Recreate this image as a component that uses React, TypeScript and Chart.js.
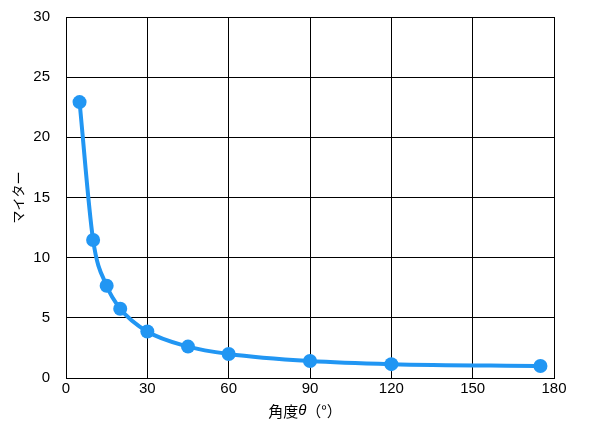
import React, { useEffect, useRef } from "react";
import { Chart, registerables } from "chart.js";

Chart.register(...registerables);

const angles: number[] = [5, 10, 15, 20, 30, 45, 60, 90, 120, 175];
const miterValues: number[] = [22.93, 11.47, 7.66, 5.76, 3.86, 2.61, 2.0, 1.41, 1.15, 1.0];
const xTitleParts: { text: string; italic: boolean }[] = [
  { text: "角度", italic: false },
  { text: "θ", italic: true },
  { text: "（°）", italic: false },
];
const yTitle = "マイター";

const FONT = "'Liberation Sans', 'Noto Sans CJK JP', sans-serif";
const JFONT = "'Noto Sans CJK JP', sans-serif";

const xTitlePlugin = {
  id: "xTitlePlugin",
  afterDraw(chart: any) {
    const { ctx, chartArea } = chart;
    const size = 15;
    ctx.save();
    ctx.fillStyle = "#000";
    ctx.textBaseline = "middle";
    ctx.textAlign = "left";
    const fonts = xTitleParts.map((p) => (p.italic ? `italic ${size}px ${FONT}` : `${size}px ${JFONT}`));
    let total = 0;
    const widths = xTitleParts.map((p, i) => {
      ctx.font = fonts[i];
      const w = ctx.measureText(p.text).width;
      total += w;
      return w;
    });
    let x = (chartArea.left + chartArea.right) / 2 - total / 2 - 5;
    const y = chartArea.bottom + 33;
    xTitleParts.forEach((p, i) => {
      ctx.font = fonts[i];
      ctx.fillText(p.text, x, y);
      x += widths[i];
    });
    ctx.restore();
  },
};

export default function App() {
  const ref = useRef<HTMLCanvasElement | null>(null);
  useEffect(() => {
    document.body.style.margin = "0";
    const ctx = ref.current!;
    const chart = new Chart(ctx, {
      type: "line",
      data: {
        datasets: [
          {
            data: angles.map((a, i) => ({ x: a, y: miterValues[i] })),
            borderColor: "#2196f3",
            backgroundColor: "#2196f3",
            borderWidth: 4,
            pointRadius: 7,
            pointHoverRadius: 7,
            pointBorderWidth: 0,
            cubicInterpolationMode: "monotone",
            fill: false,
          },
        ],
      },
      plugins: [xTitlePlugin],
      options: {
        animation: false,
        responsive: false,
        maintainAspectRatio: false,
        layout: { padding: { top: 0, right: 46, left: 0, bottom: 32 } },
        plugins: { legend: { display: false }, tooltip: { enabled: false } },
        scales: {
          x: {
            type: "linear",
            min: 0,
            max: 180,
            ticks: { stepSize: 30, color: "#000", font: { family: FONT, size: 15 }, padding: 2 },
            grid: { color: "#000", lineWidth: 1, drawTicks: false },
            border: { color: "#000", width: 1 },
          },
          y: {
            min: 0,
            max: 30,
            afterFit(scale: any) {
              scale.width = 66;
            },
            ticks: { stepSize: 5, color: "#000", font: { family: FONT, size: 15 }, padding: 16 },
            grid: { color: "#000", lineWidth: 1, drawTicks: false },
            border: { color: "#000", width: 1 },
            title: { display: true, text: yTitle, color: "#000", font: { family: JFONT, size: 13 }, padding: { top: 10, bottom: 0 } },
          },
        },
      },
    });
    return () => chart.destroy();
  }, []);
  return (
    <div style={{ width: 600, height: 432, background: "#fff", overflow: "hidden", position: "relative" }}>
      <canvas
        ref={ref}
        width={600}
        height={440}
        style={{ width: 600, height: 440, display: "block", position: "absolute", left: 0, top: -8 }}
      />
    </div>
  );
}
